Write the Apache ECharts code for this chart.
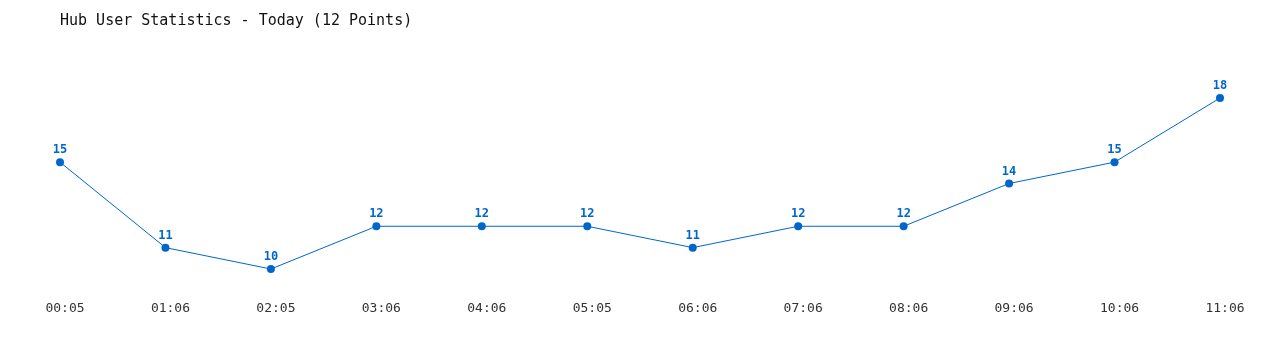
<!DOCTYPE html>
<html><head><meta charset="utf-8">
<script src="https://cdn.jsdelivr.net/npm/echarts@6/dist/echarts.min.js"></script>
<style>html,body{margin:0;padding:0;background:#fff}#c{width:1280px;height:350px}</style>
</head><body><div id="c"></div>
<script>
const categories = ['00:05','01:06','02:05','03:06','04:06','05:05','06:06','07:06','08:06','09:06','10:06','11:06'];
const users = [15, 11, 10, 12, 12, 12, 11, 12, 12, 14, 15, 18];
const titleText = 'Hub User Statistics - Today (12 Points)';
const font = '"DejaVu Sans Mono", "Liberation Mono", monospace';
const chart = echarts.init(document.getElementById('c'));
chart.setOption({
  animation: false,
  backgroundColor: '#fff',
  title: { text: titleText, left: 55, top: 9, textStyle: { fontFamily: font, fontSize: 15, fontWeight: 'normal', color: '#111' } },
  grid: { left: 60, right: 60, top: 98, bottom: 81, containLabel: false },
  xAxis: { type: 'category', data: categories, boundaryGap: false,
    axisLine: { show: false }, axisTick: { show: false }, splitLine: { show: false },
    axisLabel: { margin: 33, padding: [0, 0, 0, 10], fontFamily: font, fontSize: 13, color: '#333' } },
  yAxis: { type: 'value', min: 10, max: 18, show: false, splitLine: { show: false } },
  series: [{ type: 'line', data: users, symbol: 'circle', symbolSize: 8,
    lineStyle: { color: '#0066cc', width: 1 }, itemStyle: { color: '#0066cc' },
    label: { show: true, position: 'top', distance: 2, fontFamily: font, fontSize: 12, fontWeight: 'bold', color: '#0066cc' } }]
});
</script></body></html>
